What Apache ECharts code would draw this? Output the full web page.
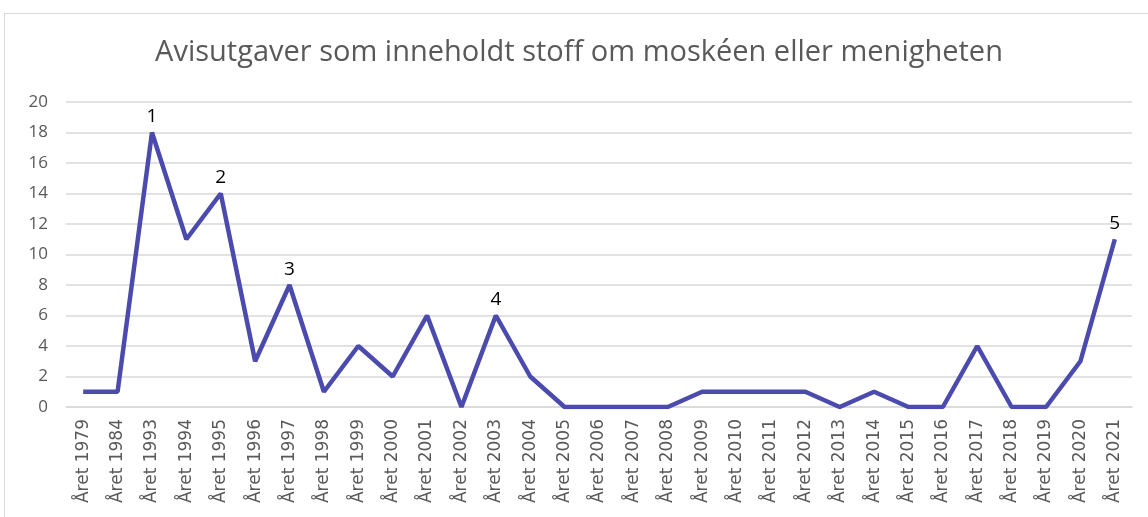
<!DOCTYPE html>
<html>
<head>
    <meta charset="UTF-8">
    <title>Avisutgaver</title>
    <script src="https://cdn.jsdelivr.net/npm/echarts@6/dist/echarts.min.js"></script>
    <style>
        body { margin: 0; background: #fff; }
        #main { position: absolute; left: 4px; top: 13px; width: 1150px; height: 510px; border: 1px solid #d9d9d9; box-sizing: border-box; }
    </style>
</head>
<body>
<div id="main"></div>
<script type="text/javascript">
    // kategorier og verdier
    var years = ['Året 1979', 'Året 1984', 'Året 1993', 'Året 1994', 'Året 1995', 'Året 1996', 'Året 1997',
        'Året 1998', 'Året 1999', 'Året 2000', 'Året 2001', 'Året 2002', 'Året 2003', 'Året 2004',
        'Året 2005', 'Året 2006', 'Året 2007', 'Året 2008', 'Året 2009', 'Året 2010', 'Året 2011',
        'Året 2012', 'Året 2013', 'Året 2014', 'Året 2015', 'Året 2016', 'Året 2017', 'Året 2018',
        'Året 2019', 'Året 2020', 'Året 2021'];
    var counts = [1, 1, 18, 11, 14, 3, 8, 1, 4, 2, 6, 0, 6, 2, 0, 0, 0, 0, 1, 1, 1, 1, 0, 1, 0, 0, 4, 0, 0, 3, 11];
    // nummererte punkter
    var markers = {'Året 1993': '1', 'Året 1995': '2', 'Året 1997': '3', 'Året 2003': '4', 'Året 2021': '5'};

    var seriesData = counts.map(function (v, i) {
        var item = {value: v};
        if (markers[years[i]]) {
            item.label = {show: true, formatter: markers[years[i]]};
        }
        return item;
    });

    var chart = echarts.init(document.getElementById('main'));
    chart.setOption({
        title: {
            text: 'Avisutgaver som inneholdt stoff om moskéen eller menigheten',
            left: 'center',
            top: 19,
            textStyle: {color: '#595959', fontSize: 29, fontWeight: 'normal', fontFamily: 'Open Sans'}
        },
        grid: {left: 61, right: 21, top: 88, bottom: 115},
        xAxis: {
            type: 'category',
            data: years,
            boundaryGap: true,
            axisLine: {lineStyle: {color: '#d9d9d9', width: 1.5}},
            axisTick: {show: false},
            axisLabel: {rotate: 90, interval: 0, color: '#595959', fontSize: 17, fontFamily: 'DejaVu Sans', margin: 12}
        },
        yAxis: {
            type: 'value',
            min: 0,
            max: 20,
            interval: 2,
            axisLine: {show: false},
            axisTick: {show: false},
            axisLabel: {color: '#595959', fontSize: 17, fontFamily: 'Open Sans', margin: 18},
            splitLine: {lineStyle: {color: '#d9d9d9', width: 1.5}}
        },
        series: [{
            type: 'line',
            data: seriesData,
            symbol: 'circle',
            symbolSize: 0,
            showAllSymbol: true,
            lineStyle: {color: '#4b4aad', width: 4.5},
            itemStyle: {color: '#4b4aad'},
            label: {show: false, position: 'top', color: '#000', fontSize: 19, fontFamily: 'Open Sans', distance: 6}
        }]
    });
</script>
</body>
</html>
